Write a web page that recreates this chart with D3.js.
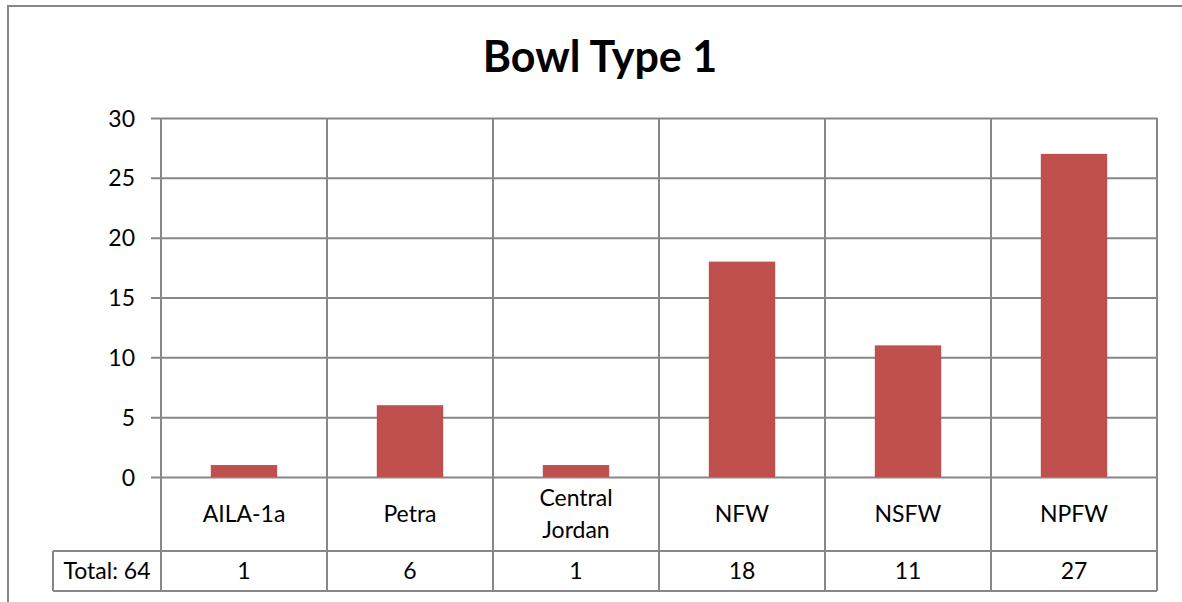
<!DOCTYPE html>
<html>
<head>
<meta charset="utf-8">
<script src="https://cdn.jsdelivr.net/npm/d3@7"></script>
<style>
  html, body { margin: 0; padding: 0; background: #fff; overflow: hidden; }
  svg { display: block; overflow: hidden; }
  text { font-family: Lato, "Open Sans", sans-serif; fill: #000; }
</style>
</head>
<body>
<svg id="chart" width="1182" height="602"></svg>
<script>
// Chart data
const title = "Bowl Type 1";
const categories = ["AILA-1a", "Petra", "Central Jordan", "NFW", "NSFW", "NPFW"];
const counts = [1, 6, 1, 18, 11, 27];
const yTicks = [0, 5, 10, 15, 20, 25, 30];
const totalLabel = "Total: 64";

const W = 1182, H = 602;
const plot = { left: 161, right: 1157, top: 118, bottom: 477 };
const labelRowBottom = 551;
const tableBottom = 591;
const tableLeft = 53;
const gridColor = "#878787";
const barColor = "#C0504D";

const svg = d3.select("#chart");

// Chart area border: left and top edges run off the view
svg.append("path")
  .attr("d", `M8,${H + 5} V6 H${W + 5}`)
  .attr("fill", "none")
  .attr("stroke", gridColor).attr("stroke-width", 2);

// Title
svg.append("text")
  .attr("x", 600).attr("y", 72)
  .attr("text-anchor", "middle")
  .style("font-size", "43px").style("font-weight", "bold")
  .text(title);

const y = d3.scaleLinear().domain([0, 30]).range([plot.bottom, plot.top]);
const cell = d3.scaleBand().domain(categories).range([plot.left, plot.right]).padding(0);
const xBar = d3.scaleBand().domain(categories).range([plot.left, plot.right])
  .paddingInner(0.6).paddingOuter(0.3);

// Horizontal gridlines with tick marks reaching left of the axis
const yAxis = d3.axisLeft(y).tickValues(yTicks)
  .tickSize(-(plot.right - plot.left + 10)).tickPadding(16);
const gy = svg.append("g")
  .attr("transform", `translate(${plot.left - 10},0)`)
  .call(yAxis);
gy.select(".domain").remove();
gy.selectAll(".tick line").attr("stroke", gridColor).attr("stroke-width", 2);
gy.selectAll(".tick text")
  .attr("dy", null).attr("y", 8)
  .style("font-size", "23px").style("font-family", "Lato, sans-serif").attr("fill", "#000");

// Vertical cell borders running through the plot, label row and table row
const edges = categories.map(c => cell(c)).concat([plot.right]);
svg.append("g").selectAll("line").data(edges).join("line")
  .attr("x1", d => d).attr("x2", d => d)
  .attr("y1", plot.top).attr("y2", tableBottom)
  .attr("stroke", gridColor).attr("stroke-width", 2);

// Table row borders
const tableG = svg.append("g");
[labelRowBottom, tableBottom].forEach(yy => {
  tableG.append("line")
    .attr("x1", tableLeft).attr("x2", plot.right)
    .attr("y1", yy).attr("y2", yy)
    .attr("stroke", gridColor).attr("stroke-width", 2);
});
tableG.append("line")
  .attr("x1", tableLeft).attr("x2", tableLeft)
  .attr("y1", labelRowBottom).attr("y2", tableBottom)
  .attr("stroke", gridColor).attr("stroke-width", 2);

// Bars
svg.append("g").selectAll("rect").data(categories).join("rect")
  .attr("x", d => xBar(d))
  .attr("width", xBar.bandwidth())
  .attr("y", (d, i) => y(counts[i]))
  .attr("height", (d, i) => y(0) - y(counts[i]))
  .attr("fill", barColor);

// Category labels (wrapped on spaces)
const rowMid = (plot.bottom + labelRowBottom) / 2;
const lineH = 31.5;
svg.append("g").selectAll("text").data(categories).join("text")
  .attr("text-anchor", "middle")
  .style("font-size", "23px")
  .each(function(d) {
    const words = d.split(" ");
    const n = words.length;
    const t = d3.select(this);
    words.forEach((w, k) => {
      t.append("tspan")
        .attr("x", cell(d) + cell.bandwidth() / 2)
        .attr("y", rowMid + 8 + (k - (n - 1) / 2) * lineH)
        .text(w);
    });
  });

// Table values
const tableMid = (labelRowBottom + tableBottom) / 2;
svg.append("g").selectAll("text").data(categories).join("text")
  .attr("x", d => cell(d) + cell.bandwidth() / 2)
  .attr("y", tableMid + 8)
  .attr("text-anchor", "middle")
  .style("font-size", "23px")
  .text((d, i) => counts[i]);

svg.append("text")
  .attr("x", (tableLeft + plot.left) / 2)
  .attr("y", tableMid + 8)
  .attr("text-anchor", "middle")
  .style("font-size", "23px")
  .text(totalLabel);
</script>
</body>
</html>
